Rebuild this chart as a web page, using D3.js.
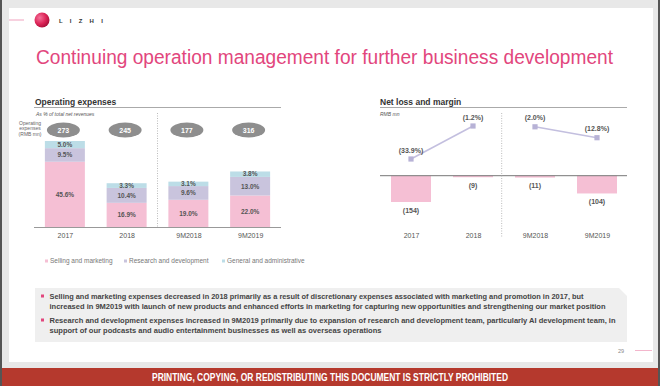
<!DOCTYPE html>
<html><head><meta charset="utf-8">
<script src="https://cdn.jsdelivr.net/npm/d3@7"></script>
<style>
html,body{margin:0;padding:0;background:#e8e8e8;}
svg{display:block;font-family:"Liberation Sans",Arial,sans-serif;}
</style></head>
<body>
<svg id="c" width="660" height="386"></svg>
<script>
const categories = ["2017", "2018", "9M2018", "9M2019"];
const sellingMarketing = [45.6, 16.9, 19.0, 22.0];
const researchDev = [9.5, 10.4, 9.6, 13.0];
const generalAdmin = [5.0, 3.3, 3.1, 3.8];
const opexTotal = [273, 245, 177, 316];
const netLoss = [-154, -9, -11, -104];
const netMargin = [-33.9, -1.2, -2.0, -12.8];
const legendLabels = ["Selling and marketing", "Research and development", "General and administrative"];
const bullets = [
  ["Selling and marketing expenses decreased in 2018 primarily as a result of discretionary expenses associated with marketing and promotion in 2017, but",
   "increased in 9M2019 with launch of new products and enhanced efforts in marketing for capturing new opportunities and strengthening our market position"],
  ["Research and development expenses increased in 9M2019 primarily due to expansion of research and development team, particularly AI development team, in",
   "support of our podcasts and audio entertainment businesses as well as overseas operations"]
];

const svg = d3.select("#c");
const colors = {sm: "#f5bfd4", rd: "#c9c4dd", ga: "#bcdde7"};

// frame
svg.append("rect").attr("x",0).attr("y",0).attr("width",660).attr("height",386).attr("fill","#e8e8e8");
svg.append("rect").attr("x",0).attr("y",0).attr("width",2).attr("height",386).attr("fill","#555");
svg.append("rect").attr("x",658).attr("y",0).attr("width",2).attr("height",386).attr("fill","#555");
svg.append("rect").attr("x",9).attr("y",8).attr("width",644).attr("height",354).attr("fill","#fff");

// logo
const defs = svg.append("defs");
const rg = defs.append("radialGradient").attr("id","lg").attr("cx","35%").attr("cy","35%").attr("r","70%");
rg.append("stop").attr("offset","0%").attr("stop-color","#f4729a");
rg.append("stop").attr("offset","60%").attr("stop-color","#dc2457");
rg.append("stop").attr("offset","100%").attr("stop-color","#a80f3a");
svg.append("line").attr("x1",9).attr("x2",24).attr("y1",20).attr("y2",20).attr("stroke","#f0a3bf").attr("stroke-width",1);
svg.append("circle").attr("cx",42).attr("cy",20).attr("r",7.5).attr("fill","url(#lg)");
svg.append("text").attr("x",59).attr("y",22.5).attr("font-size",6).attr("font-weight","bold")
  .attr("fill","#333").attr("letter-spacing",7.2).text("LIZHI");

// title
svg.append("text").attr("x",36).attr("y",64).attr("font-size",19.5).attr("fill","#e2467d")
  .attr("textLength",577).attr("lengthAdjust","spacingAndGlyphs")
  .text("Continuing operation management for further business development");

// ===== Left panel =====
svg.append("text").attr("x",35).attr("y",105).attr("font-size",8.5).attr("font-weight","bold").attr("fill","#333").text("Operating expenses");
svg.append("line").attr("x1",34).attr("x2",281).attr("y1",107.5).attr("y2",107.5).attr("stroke","#aaa").attr("stroke-width",1);
svg.append("text").attr("x",36).attr("y",116).attr("font-size",5).attr("font-style","italic").attr("fill","#555").text("As % of total net revenues");
["Operating","expenses","(RMB mn)"].forEach((t,i)=>{
  svg.append("text").attr("x",30).attr("y",124.5+i*5.8).attr("font-size",5).attr("text-anchor","middle").attr("fill","#666").text(t);
});

const xL = d3.scalePoint().domain(categories).range([34,281]).padding(0.5);
const yL = d3.scaleLinear().domain([0,60.1]).range([227,141]);
const bw = 40;
const stackData = categories.map((c,i)=>({cat:c, sm:sellingMarketing[i], rd:researchDev[i], ga:generalAdmin[i]}));
const stack = d3.stack().keys(["sm","rd","ga"])(stackData);
const gL = svg.append("g");
stack.forEach(layer=>{
  gL.selectAll(null).data(layer).enter().append("rect")
    .attr("x",d=>xL(d.data.cat)-bw/2).attr("width",bw)
    .attr("y",d=>yL(d[1])).attr("height",d=>yL(d[0])-yL(d[1]))
    .attr("fill",colors[layer.key]);
  gL.selectAll(null).data(layer).enter().append("text")
    .attr("x",d=>xL(d.data.cat)).attr("y",d=>(yL(d[0])+yL(d[1]))/2+2.3)
    .attr("text-anchor","middle").attr("font-size",6.5).attr("font-weight","bold").attr("fill","#555")
    .text(d=>d.data[layer.key].toFixed(1)+"%");
});
// ellipses
categories.forEach((c,i)=>{
  svg.append("ellipse").attr("cx",xL(c)-1.5).attr("cy",130).attr("rx",16.5).attr("ry",7.5).attr("fill","#8e8e8e");
  svg.append("text").attr("x",xL(c)-1.5).attr("y",132.5).attr("text-anchor","middle").attr("font-size",7).attr("font-weight","bold").attr("fill","#fff").text(opexTotal[i]);
});
svg.append("line").attr("x1",34).attr("x2",281).attr("y1",227.5).attr("y2",227.5).attr("stroke","#999").attr("stroke-width",1.2);
svg.append("line").attr("x1",157.5).attr("x2",157.5).attr("y1",113).attr("y2",227).attr("stroke","#aaa").attr("stroke-width",0.8).attr("stroke-dasharray","1,1.5");
const axL = svg.append("g").attr("transform","translate(0,227.5)").call(d3.axisBottom(xL).tickSize(0).tickPadding(6));
axL.select(".domain").remove();
axL.selectAll("text").attr("font-size",7).attr("fill","#555").attr("font-family","Liberation Sans, Arial, sans-serif");

// legend
const legX = [45,124,222];
const legCol = [colors.sm, colors.rd, colors.ga];
legendLabels.forEach((t,i)=>{
  svg.append("rect").attr("x",legX[i]).attr("y",259.5).attr("width",3).attr("height",3).attr("fill",legCol[i]);
  svg.append("text").attr("x",legX[i]+5).attr("y",263.3).attr("font-size",6.5).attr("fill","#777").text(t);
});

// ===== Right panel =====
svg.append("text").attr("x",380).attr("y",105).attr("font-size",8.5).attr("font-weight","bold").attr("fill","#333").text("Net loss and margin");
svg.append("line").attr("x1",380).attr("x2",627).attr("y1",107.5).attr("y2",107.5).attr("stroke","#aaa").attr("stroke-width",1);
svg.append("text").attr("x",380).attr("y",116).attr("font-size",5).attr("font-style","italic").attr("fill","#555").text("RMB mn");

const xR = d3.scalePoint().domain(categories).range([380,628]).padding(0.5);
const yB = d3.scaleLinear().domain([-154,0]).range([202,175.7]);
const yM = d3.scaleLinear().domain([-33.9,-1.2]).range([159,126]);
const gR = svg.append("g");
gR.selectAll(null).data(categories).enter().append("rect")
  .attr("x",c=>xR(c)-bw/2).attr("width",bw)
  .attr("y",yB(0)).attr("height",(c,i)=>Math.max(1,yB(netLoss[i])-yB(0)))
  .attr("fill",colors.sm);
gR.selectAll(null).data(categories).enter().append("text")
  .attr("x",c=>xR(c)).attr("y",(c,i)=>yB(netLoss[i])+10.5)
  .attr("text-anchor","middle").attr("font-size",7).attr("font-weight","bold").attr("fill","#555")
  .text((c,i)=>"("+Math.abs(netLoss[i])+")");
svg.append("line").attr("x1",380).attr("x2",627).attr("y1",175.7).attr("y2",175.7).attr("stroke","#777").attr("stroke-width",1);
svg.append("line").attr("x1",501.7).attr("x2",501.7).attr("y1",113).attr("y2",237).attr("stroke","#aaa").attr("stroke-width",0.8).attr("stroke-dasharray","1,1.5");

const pts = categories.map((c,i)=>({cat:c, v:netMargin[i]}));
const line = d3.line().x(d=>xR(d.cat)).y(d=>yM(d.v));
[[pts[0],pts[1]],[pts[2],pts[3]]].forEach(seg=>{
  gR.append("path").attr("d",line(seg)).attr("fill","none").attr("stroke","#c3bfdf").attr("stroke-width",1.5);
});
gR.selectAll(null).data(pts).enter().append("rect")
  .attr("x",d=>xR(d.cat)-2.6).attr("y",d=>yM(d.v)-2.6).attr("width",5.2).attr("height",5.2).attr("fill","#b7b2d6");
gR.selectAll(null).data(pts).enter().append("text")
  .attr("x",d=>xR(d.cat)).attr("y",d=>yM(d.v)-6.5)
  .attr("text-anchor","middle").attr("font-size",7).attr("font-weight","bold").attr("fill","#555")
  .text(d=>"("+Math.abs(d.v).toFixed(1)+"%)");
const axR = svg.append("g").attr("transform","translate(0,227.5)").call(d3.axisBottom(xR).tickSize(0).tickPadding(6));
axR.select(".domain").remove();
axR.selectAll("text").attr("font-size",7).attr("fill","#555").attr("font-family","Liberation Sans, Arial, sans-serif");

// ===== Text box =====
svg.append("path").attr("d","M35,288 L619,288 L627,296 L627,342 L35,342 Z").attr("fill","#efefef");
const lineY = [[298.5,308.5],[322.5,332.5]];
const lineW = [[534,556],[566,332]];
bullets.forEach((b,i)=>{
  svg.append("rect").attr("x",41).attr("y",lineY[i][0]-4).attr("width",3).attr("height",3).attr("fill","#e2467d");
  b.forEach((t,j)=>{
    svg.append("text").attr("x",49.5).attr("y",lineY[i][j]).attr("font-size",6.8).attr("font-weight","bold").attr("fill","#444")
      .attr("textLength",lineW[i][j]).attr("lengthAdjust","spacingAndGlyphs").text(t);
  });
});

// page number
svg.append("text").attr("x",624).attr("y",353).attr("font-size",5.5).attr("text-anchor","end").attr("fill","#888").text("29");
svg.append("line").attr("x1",635).attr("x2",652).attr("y1",350.5).attr("y2",350.5).attr("stroke","#f0a3bf").attr("stroke-width",0.8);

// banner
svg.append("rect").attr("x",2).attr("y",368).attr("width",656).attr("height",18).attr("fill","#b5392d");
svg.append("text").attr("x",330).attr("y",381).attr("text-anchor","middle").attr("font-size",10).attr("font-weight","bold")
  .attr("fill","#fff").attr("font-family","Liberation Sans Narrow, Liberation Sans, Arial, sans-serif")
  .attr("textLength",356).attr("lengthAdjust","spacingAndGlyphs")
  .text("PRINTING, COPYING, OR REDISTRIBUTING THIS DOCUMENT IS STRICTLY PROHIBITED");
</script>
</body></html>
